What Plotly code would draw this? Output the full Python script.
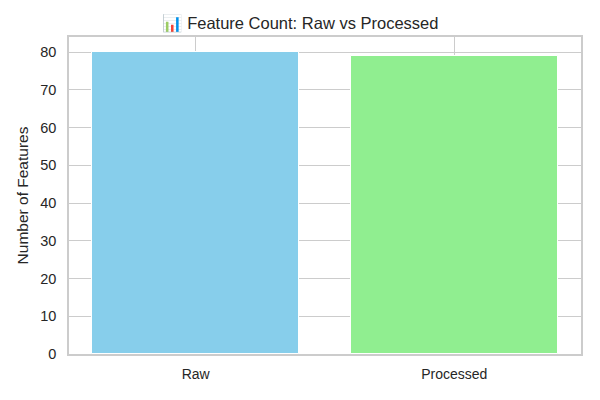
import plotly.graph_objects as go

categories = ["Raw", "Processed"]
feature_counts = [80, 79]
bar_colors = ["#87CEEB", "#90EE90"]
title_text = "📊 Feature Count: Raw vs Processed"
y_label = "Number of Features"

fig = go.Figure(
    go.Bar(
        x=categories,
        y=feature_counts,
        marker=dict(color=bar_colors, line=dict(color="white", width=1)),
        width=0.8,
    )
)

font_family = "Liberation Sans, Arial, sans-serif"
fig.update_layout(
    width=600,
    height=400,
    margin=dict(l=69, r=19, t=37, b=46),
    paper_bgcolor="white",
    plot_bgcolor="white",
    font=dict(family=font_family, size=14, color="#262626"),
    title=dict(text=title_text, x=0.5, xanchor="center", y=1 - 23 / 400, yanchor="middle",
               font=dict(size=16.5, color="#262626")),
    showlegend=False,
    bargap=0,
)
fig.update_xaxes(
    type="category",
    range=[-0.49, 1.49],
    showgrid=True,
    gridcolor="#cccccc",
    gridwidth=1,
    showline=True,
    linecolor="#cccccc",
    linewidth=1.5,
    mirror=True,
    ticks="",
    ticklabelstandoff=6,
    tickfont=dict(size=14, color="#262626"),
    zeroline=False,
)
fig.update_yaxes(
    range=[0, 84],
    tickvals=list(range(0, 81, 10)),
    showgrid=True,
    gridcolor="#cccccc",
    gridwidth=1,
    showline=True,
    linecolor="#cccccc",
    linewidth=1.5,
    mirror=True,
    ticks="",
    ticklabelstandoff=8,
    tickfont=dict(size=14.5, color="#262626"),
    title=dict(text=y_label, font=dict(size=15.5, color="#262626"), standoff=8),
    zeroline=False,
)

fig.write_html("out.html")
